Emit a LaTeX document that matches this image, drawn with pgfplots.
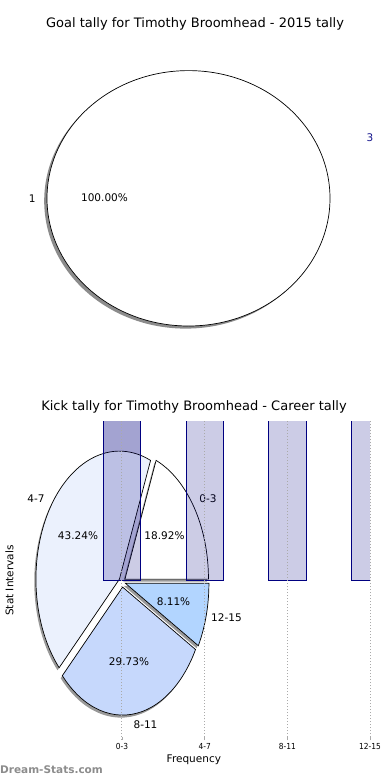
\documentclass[border=0pt]{standalone}
\usepackage{pgfplots}
\pgfplotsset{compat=1.18}
\usepackage{fontspec}
\setmainfont{DejaVu Sans}
\newfontfamily\cond{DejaVu Sans Condensed}
\definecolor{navyc}{RGB}{0,0,128}
\definecolor{labblue}{RGB}{20,20,140}
\definecolor{w0}{RGB}{255,255,255}
\definecolor{w1}{RGB}{235,241,253}
\definecolor{w2}{RGB}{198,216,252}
\definecolor{w3}{RGB}{178,213,255}
\definecolor{dsgray}{RGB}{140,140,140}
\definecolor{gridc}{RGB}{170,170,170}
\newcommand\lbl{\fontsize{10.5bp}{12bp}\selectfont}
\newcommand\ttl{\fontsize{13bp}{15bp}\selectfont}
\newcommand\tck{\cond\fontsize{8.3bp}{9bp}\selectfont}
\begin{document}
\begin{tikzpicture}
\useasboundingbox (0,0) rectangle (390bp,-780bp);

% ---------- top pie: goal tally ----------
\begin{axis}[at={(0bp,-360bp)}, anchor=south west, scale only axis,
  width=390bp, height=320bp, xmin=0, xmax=390, ymin=0, ymax=320,
  hide axis, clip=false,
  title={Goal tally for Timothy Broomhead - 2015 tally},
  title style={at={(rel axis cs:0.5,1.0328)}, anchor=center, font=\ttl}]
\pgfplotsextra{
  \fill[black, fill opacity=0.45] (axis cs:185.7,159.1) ellipse [x radius=141.5bp, y radius=127.7bp];
  \filldraw[fill=white, draw=black, line width=0.7bp] (axis cs:188.5,161.7) ellipse [x radius=141.5bp, y radius=127.7bp];
  \node[font=\lbl, inner sep=0pt] at (axis cs:32.3,161.7) {1};
  \node[font=\lbl, inner sep=0pt] at (axis cs:104.5,162) {100.00\%};
  \node[font=\lbl, inner sep=0pt, text=labblue] at (axis cs:370,222.7) {3};
}
\end{axis}

% ---------- bottom: kick tally ----------
\begin{axis}[at={(14.533bp,-740bp)}, anchor=south west, scale only axis,
  width=355.467bp, height=319bp,
  xmin=-1.3, xmax=3, ymin=-1, ymax=1, enlargelimits=false,
  axis line style={draw=none}, ytick=\empty,
  xtick={0,1,2,3}, xticklabels={0-3,4-7,8-11,12-15},
  xtick pos=left, major tick length=3bp,
  tick style={gridc, line width=0.8bp},
  xmajorgrids, grid style={gridc, line width=1bp, dash pattern=on 1bp off 2bp},
  x tick label style={font=\tck},
  axis on top,
  title={Kick tally for Timothy Broomhead - Career tally},
  title style={at={(rel axis cs:0.5049,1.0251)}, anchor=center, font=\ttl},
  xlabel={Frequency},
  xlabel style={at={(rel axis cs:0.5045,-0.0627)}, anchor=center, font=\lbl},
  ylabel={Stat Intervals},
  ylabel style={at={(rel axis cs:-0.0141,0.5)}, anchor=center, font=\lbl},
]
% first bar layer (under the pie)
\addplot[ybar, bar width=0.45, bar shift=0pt, fill=navyc, fill opacity=0.2, draw=none]
  coordinates {(0,7)};
% pie of the same counts
\pgfplotsextra{
\begin{scope}[shift={(axis cs:0,0)}]
  \gdef\angA{0}
  \foreach \v in {7,16,11,3} {
    \pgfmathsetmacro\angB{\angA+360*\v/37}
    \pgfmathsetmacro\angM{(\angA+\angB)/2}
    \pgfmathsetmacro\ox{0.2+0.04*83.5*cos(\angM)-1.67}
    \pgfmathsetmacro\oy{-1.5+0.04*128*sin(\angM)-2.56}
    \fill[black, fill opacity=0.4] (\ox bp,\oy bp) -- ++(\angA:83.5bp and 128bp)
      arc[start angle=\angA, end angle=\angB, x radius=83.5bp, y radius=128bp] -- cycle;
    \xdef\angA{\angB}
  }
  \gdef\angA{0}
  \foreach \v/\c in {7/w0,16/w1,11/w2,3/w3} {
    \pgfmathsetmacro\angB{\angA+360*\v/37}
    \pgfmathsetmacro\angM{(\angA+\angB)/2}
    \pgfmathsetmacro\ox{0.2+0.04*83.5*cos(\angM)}
    \pgfmathsetmacro\oy{-1.5+0.04*128*sin(\angM)}
    \filldraw[fill=\c, draw=black, line width=0.7bp] (\ox bp,\oy bp) -- ++(\angA:83.5bp and 128bp)
      arc[start angle=\angA, end angle=\angB, x radius=83.5bp, y radius=128bp] -- cycle;
    \xdef\angA{\angB}
  }
  \node[font=\lbl, inner sep=0pt] at (-86bp,81.5bp) {4-7};
  \node[font=\lbl, inner sep=0pt] at (-44bp,45bp) {43.24\%};
  \node[font=\lbl, inner sep=0pt] at (42.5bp,45bp) {18.92\%};
  \node[font=\lbl, inner sep=0pt] at (86bp,81.5bp) {0-3};
  \node[font=\lbl, inner sep=0pt] at (51.5bp,-21.5bp) {8.11\%};
  \node[font=\lbl, inner sep=0pt] at (104.5bp,-37.5bp) {12-15};
  \node[font=\lbl, inner sep=0pt] at (7bp,-81.5bp) {29.73\%};
  \node[font=\lbl, inner sep=0pt] at (23.5bp,-144.5bp) {8-11};
\end{scope}
}
% bars on top of the pie
\addplot[ybar, bar width=0.45, bar shift=0pt, fill=navyc, fill opacity=0.2, draw=navyc, line width=0.8bp]
  coordinates {(0,7) (1,16) (2,11) (3,3)};
\end{axis}

\node[font=\bfseries\lbl, text=dsgray, anchor=west, inner sep=0pt] at (0bp,-770bp) {Dream-Stats.com};
\end{tikzpicture}
\end{document}
